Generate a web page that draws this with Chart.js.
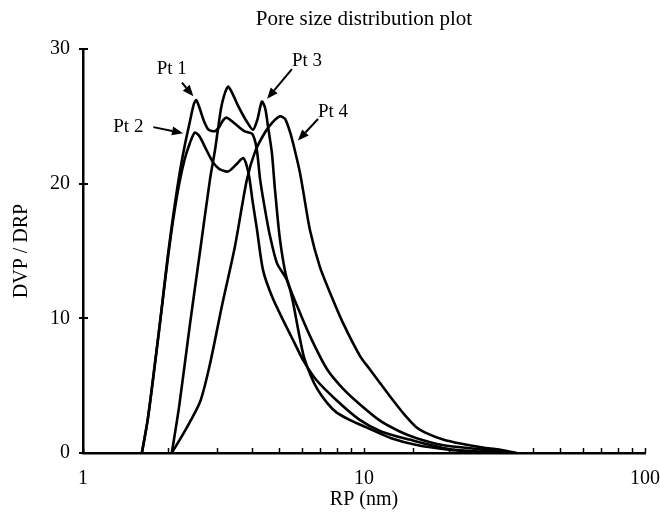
<!DOCTYPE html>
<html>
<head>
<meta charset="utf-8">
<script src="https://cdn.jsdelivr.net/npm/chart.js@4.4.1/dist/chart.umd.min.js"></script>
<style>
  html, body { margin: 0; padding: 0; background: #ffffff; }
  #wrap { width: 660px; height: 518px; }
</style>
</head>
<body>
<div id="wrap"><canvas id="c" width="660" height="518"></canvas></div>
<script>
// ---- data (RP in nm, DVP/DRP) ----
const seriesNames = ['Pt 1', 'Pt 2', 'Pt 3', 'Pt 4'];
const pt1X = [1.62,1.70,1.80,1.90,2.00,2.10,2.20,2.30,2.40,2.48,2.53,2.60,2.70,2.80,2.95,3.05,3.15,3.25,3.45,3.75,4.00,4.15,4.27,4.45,4.63,4.90,5.30,5.55,5.85,6.10,6.45,6.80,7.40,8.00,9.00,10.2,12.5,15.4,20.0,27.0];
const pt1Y = [0,2.5,6.5,10.5,14.5,17.8,20.6,22.8,24.6,25.9,26.2,25.6,24.6,24.0,23.9,24.2,24.7,24.9,24.5,23.9,23.7,22.6,20.3,18.0,16.1,14.1,12.9,11.5,9.0,7.2,5.8,4.8,3.7,3.0,2.4,1.9,1.1,0.6,0.25,0];
const pt2X = [1.62,1.70,1.80,1.90,2.00,2.10,2.20,2.30,2.40,2.50,2.60,2.75,2.90,3.05,3.28,3.50,3.72,3.88,4.02,4.16,4.37,4.71,5.20,5.65,6.07,6.78,8.00,9.60,11.5,14.5,20.0,26.0,30.0];
const pt2Y = [0,2.5,6.5,10.5,14.3,17.5,20.0,21.8,23.0,23.8,23.5,22.5,21.6,21.1,20.9,21.4,21.9,20.8,18.6,16.6,13.6,11.6,9.7,8.2,6.9,5.4,3.9,2.5,1.6,1.0,0.3,0.1,0];
const pt3X = [2.07,2.20,2.40,2.61,2.83,2.95,3.02,3.12,3.28,3.42,3.56,3.83,4.03,4.18,4.33,4.45,4.55,4.70,4.82,5.02,5.32,5.92,6.59,7.40,8.40,9.68,11.4,13.4,15.4,19.0,26.5,33.0];
const pt3Y = [0,3.5,9.5,15.0,20.3,22.5,24.0,25.9,27.2,26.6,25.8,24.6,24.0,24.8,26.1,25.6,24.3,22.3,19.6,15.9,12.9,10.4,8.2,6.2,4.8,3.6,2.4,1.6,1.1,0.6,0.25,0];
const pt4X = [2.07,2.30,2.61,2.83,3.12,3.47,3.83,4.10,4.44,4.70,5.02,5.24,5.46,5.70,5.92,6.07,6.43,6.97,7.57,8.40,9.68,10.5,11.4,12.7,14.0,15.4,17.0,19.1,22.0,26.5,30.0,35.0];
const pt4Y = [0,1.6,3.8,6.6,10.9,15.3,20.3,22.4,23.8,24.5,25.0,24.8,23.8,22.3,20.8,19.5,16.5,13.8,11.9,9.7,7.2,6.2,5.2,3.9,2.8,1.9,1.4,1.0,0.7,0.4,0.25,0];

// axis ranges / tick labels
const xMin = 1, xMax = 100;
const yMin = 0, yMax = 30, yStep = 10;
const xTickLabels = [1, 10, 100];
const chartTitle = 'Pore size distribution plot';

// annotation labels with arrows (data coordinates)
const noteTexts = ['Pt 1', 'Pt 2', 'Pt 3', 'Pt 4'];
const noteX = [2.07, 1.45, 6.27, 7.76];
const noteY = [28.5, 24.2, 29.1, 25.3];
const arrowFromX = [2.25, 1.78, 5.54, 6.86];
const arrowFromY = [27.5, 24.2, 28.5, 24.8];
const arrowToX = [2.47, 2.27, 4.52, 5.82];
const arrowToY = [26.5, 23.75, 26.3, 23.2];

const FONT = '"Liberation Serif", "Times New Roman", serif';

function toPts(xs, ys) { return xs.map((x, i) => ({ x: x, y: ys[i] })); }
const allX = [pt1X, pt2X, pt3X, pt4X];
const allY = [pt1Y, pt2Y, pt3Y, pt4Y];

const datasets = seriesNames.map((n, i) => ({
  label: n,
  data: toPts(allX[i], allY[i]),
  borderColor: '#000000',
  backgroundColor: '#000000',
  borderWidth: 2.6,
  pointRadius: 0,
  tension: 0.25,
  fill: false
}));

const decorPlugin = {
  id: 'decor',
  afterDraw(chart) {
    const ctx = chart.ctx;
    const xs = chart.scales.x, ys = chart.scales.y;
    const ca = chart.chartArea;
    ctx.save();
    ctx.strokeStyle = '#000';
    ctx.fillStyle = '#000';
    // title centred over the plot area
    ctx.font = '21px ' + FONT;
    ctx.textAlign = 'center';
    ctx.textBaseline = 'middle';
    ctx.fillText(chartTitle, (ca.left + ca.right) / 2, 19);
    // x minor/major ticks pointing up
    ctx.lineWidth = 1.5;
    xs.ticks.forEach(t => {
      const px = Math.round(xs.getPixelForValue(t.value)) + 0.5;
      ctx.beginPath();
      ctx.moveTo(px, ca.bottom);
      ctx.lineTo(px, ca.bottom - 5);
      ctx.stroke();
    });
    // y ticks crossing the axis
    ctx.lineWidth = 2;
    ys.ticks.forEach(t => {
      const py = Math.round(ys.getPixelForValue(t.value));
      ctx.beginPath();
      ctx.moveTo(ca.left - 4, py);
      ctx.lineTo(ca.left + 5, py);
      ctx.stroke();
    });
    // annotations
    ctx.font = '19px ' + FONT;
    noteTexts.forEach((txt, i) => {
      ctx.fillText(txt, xs.getPixelForValue(noteX[i]), ys.getPixelForValue(noteY[i]));
      const x0 = xs.getPixelForValue(arrowFromX[i]), y0 = ys.getPixelForValue(arrowFromY[i]);
      const x1 = xs.getPixelForValue(arrowToX[i]), y1 = ys.getPixelForValue(arrowToY[i]);
      const ang = Math.atan2(y1 - y0, x1 - x0);
      const hl = 11, hw = 4.5;
      const bx = x1 - hl * Math.cos(ang), by = y1 - hl * Math.sin(ang);
      ctx.lineWidth = 2;
      ctx.beginPath();
      ctx.moveTo(x0, y0);
      ctx.lineTo(bx, by);
      ctx.stroke();
      ctx.beginPath();
      ctx.moveTo(x1, y1);
      ctx.lineTo(bx + hw * Math.sin(ang), by - hw * Math.cos(ang));
      ctx.lineTo(bx - hw * Math.sin(ang), by + hw * Math.cos(ang));
      ctx.closePath();
      ctx.fill();
    });
    ctx.restore();
  }
};

new Chart(document.getElementById('c'), {
  type: 'line',
  data: { datasets: datasets },
  options: {
    responsive: false,
    animation: false,
    layout: { padding: { top: 49, left: 0, right: 15, bottom: 0 } },
    plugins: {
      legend: { display: false },
      tooltip: { enabled: false },
      title: { display: false }
    },
    scales: {
      x: {
        type: 'logarithmic',
        min: xMin, max: xMax,
        afterFit(s) { s.height = 65; s.paddingLeft = 0; s.paddingRight = 0; },
        border: { display: true, color: '#000', width: 2.5 },
        grid: { display: true, drawOnChartArea: false, drawTicks: false },
        ticks: {
          color: '#000',
          font: { family: FONT, size: 20 },
          padding: 14,
          maxRotation: 0,
          autoSkip: false,
          callback: (v) => xTickLabels.includes(v) ? String(v) : ''
        },
        title: {
          display: true, text: 'RP (nm)', color: '#000',
          font: { family: FONT, size: 20 },
          padding: { top: 0, bottom: 6 }
        }
      },
      y: {
        min: yMin, max: yMax,
        afterFit(s) { s.width = 83; s.paddingTop = 0; s.paddingBottom = 0; },
        border: { display: true, color: '#000', width: 2.5 },
        grid: { display: true, drawOnChartArea: false, drawTicks: false },
        ticks: {
          color: '#000',
          font: { family: FONT, size: 20 },
          stepSize: yStep,
          padding: 13
        },
        title: {
          display: true, text: 'DVP / DRP', color: '#000',
          font: { family: FONT, size: 20 },
          padding: { top: 10, bottom: 0 }
        }
      }
    }
  },
  plugins: [decorPlugin]
});
</script>
</body>
</html>
